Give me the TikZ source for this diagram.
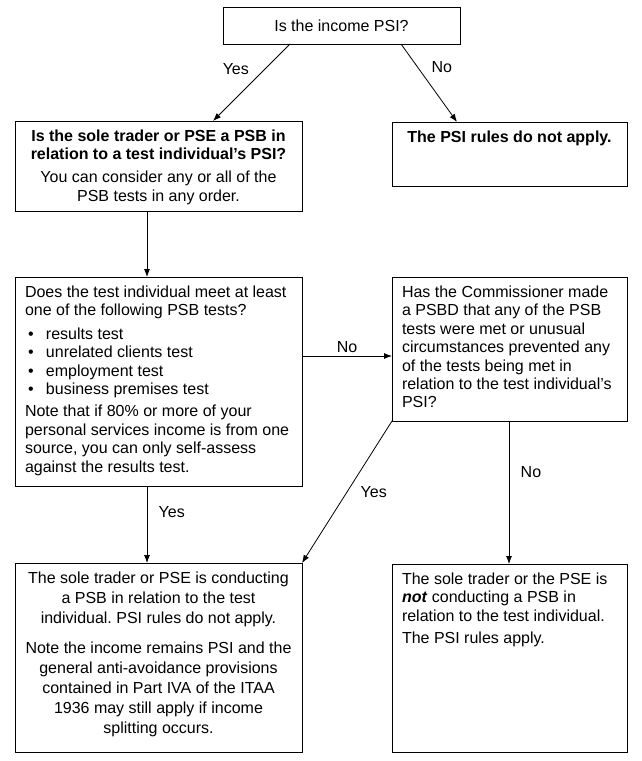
\documentclass[tikz,border=0pt]{standalone}
\usepackage{fontspec}
\setmainfont{Liberation Sans}
\usetikzlibrary{arrows.meta}
\frenchspacing
\newcommand{\boxbody}[4]{\begin{minipage}[t][#2][t]{#1}#3\rule{0pt}{20.5bp}#4\end{minipage}}
\newcommand{\bul}{\makebox[21bp][l]{\hspace{3bp}\textbullet}}
\tikzset{
  box/.style={draw, line width=0.8bp, anchor=north west, inner xsep=10bp, inner ysep=0pt, outer sep=0pt},
  arr/.style={line width=0.8bp, -{Latex[length=8bp,width=6bp]}}
}
\begin{document}
\begin{tikzpicture}[x=1bp, y=-1bp, font=\fontsize{16bp}{18.4bp}\selectfont]
\useasboundingbox (0,0) rectangle (642,761);
\node[box, inner sep=0pt, minimum width=237bp, minimum height=37bp] (income) at (223,7) {Is the income PSI?};
\node[box] (psbq) at (15,121) {\boxbody{267bp}{90bp}{\centering}{\textbf{Is the sole trader or PSE a PSB in\\ relation to a test individual’s PSI?}\par\vspace{4.5bp}
  You can consider any or all of the\\ PSB tests in any order.}};
\node[box] (noapply) at (392,122) {\boxbody{215bp}{64bp}{\centering}{\textbf{The PSI rules do not apply.}}};
\node[box] (tests) at (15,277) {\boxbody{267bp}{209bp}{\raggedright}{Does the test individual meet at least\\ one of the following PSB tests?\par\vspace{5bp}
  \bul results test\\ \bul unrelated clients test\\ \bul employment test\\ \bul business premises test\par\vspace{4bp}
  Note that if 80\% or more of your\\ personal services income is from one\\ source, you can only self-assess\\ against the results test.}};
\node[box] (psbd) at (392,277) {\boxbody{215bp}{144bp}{\raggedright}{Has the Commissioner made\\ a PSBD that any of the PSB\\ tests were met or unusual\\ circumstances prevented any\\ of the tests being met in\\ relation to the test individual’s\\ PSI?}};
\node[box] (ispsb) at (15,563) {\boxbody{267bp}{189bp}{\centering\fontsize{16bp}{19.8bp}\selectfont}{The sole trader or PSE is conducting\\ a PSB in relation to the test\\ individual. PSI rules do not apply.\par\vspace{11bp}
  Note the income remains PSI and the\\ general anti-avoidance provisions\\ contained in Part IVA of the ITAA\\ 1936 may still apply if income\\ splitting occurs.}};
\node[box] (notpsb) at (392,564) {\boxbody{215bp}{188bp}{\raggedright}{The sole trader or the PSE is\\ \textbf{\textit{not}} conducting a PSB in\\ relation to the test individual.\par\vspace{3.5bp}
  The PSI rules apply.}};
% connectors
\draw[arr] ([xshift=67bp]income.south west) -- node[pos=0.33, left=12bp]{Yes} ([xshift=198bp]psbq.north west);
\draw[arr] ([xshift=178bp]income.south west) -- node[pos=0.3, right=10bp]{No} ([xshift=65bp]noapply.north west);
\draw[arr] ([xshift=132bp]psbq.south west) -- ([xshift=132bp]tests.north west);
\draw[arr] ([yshift=-79bp]tests.north east) -- node[above]{No} ([yshift=-79bp]psbd.north west);
\draw[arr] (psbd.south west) -- node[pos=0.5, right=10bp]{Yes} (ispsb.north east);
\draw[arr] ([xshift=117bp]psbd.south west) -- node[pos=0.36, right=8bp]{No} ([xshift=117bp]notpsb.north west);
\draw[arr] ([xshift=132bp]tests.south west) -- node[pos=0.34, right=8bp]{Yes} ([xshift=132bp]ispsb.north west);
\end{tikzpicture}
\end{document}
